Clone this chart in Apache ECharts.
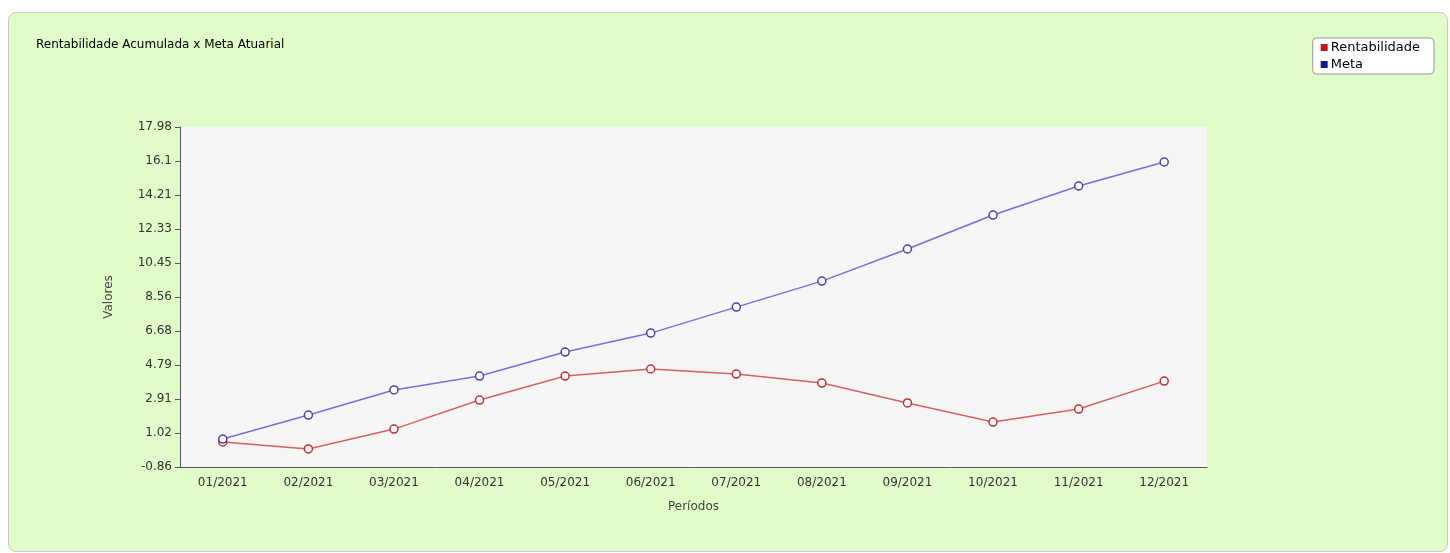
<!DOCTYPE html>
<html><head><meta charset="utf-8">
<script src="https://cdn.jsdelivr.net/npm/echarts@6/dist/echarts.min.js"></script>
<style>
html,body{margin:0;padding:0;background:#fff;}
#box{position:absolute;left:8px;top:12px;width:1438px;height:538px;background:#e0fcc8;border:1px solid #c8c8c8;border-radius:8px;}
#chart{position:absolute;left:0;top:0;width:1450px;height:553px;}
</style></head>
<body>
<div id="box"></div>
<div id="chart"></div>
<script>
var periods = ['01/2021','02/2021','03/2021','04/2021','05/2021','06/2021','07/2021','08/2021','09/2021','10/2021','11/2021','12/2021'];
var rentabilidade = [0.53, 0.14, 1.24, 2.85, 4.18, 4.57, 4.29, 3.79, 2.69, 1.63, 2.35, 3.90];
var meta = [0.69, 2.02, 3.41, 4.18, 5.51, 6.56, 8.00, 9.44, 11.22, 13.10, 14.71, 16.04];
var yTicks = ['-0.86','1.02','2.91','4.79','6.68','8.56','10.45','12.33','14.21','16.1','17.98'];

var yMin = -0.86, yMax = 17.98, yStep = (yMax - yMin) / 10;
var chart = echarts.init(document.getElementById('chart'));
var font = 'DejaVu Sans';
chart.setOption({
    backgroundColor: 'transparent',
    animation: false,
    title: {
        text: 'Rentabilidade Acumulada x Meta Atuarial',
        left: 31, top: 34,
        textStyle: {fontFamily: font, fontSize: 12, fontWeight: 'normal', color: '#000'}
    },
    legend: {
        orient: 'vertical', right: 16, top: 38,
        backgroundColor: '#fff', borderColor: '#999', borderWidth: 1, borderRadius: 4,
        padding: [3, 14, 3, 8], itemGap: 4,
        itemWidth: 7, itemHeight: 7, icon: 'rect',
        textStyle: {fontFamily: font, fontSize: 13, color: '#000', padding: [0, 0, 0, -2]},
        data: [
            {name: 'Rentabilidade', itemStyle: {color: '#c01818', borderWidth: 0}},
            {name: 'Meta', itemStyle: {color: '#1a1a90', borderWidth: 0}}
        ]
    },
    grid: {left: 180, right: 243, top: 127, bottom: 86, show: true, backgroundColor: '#f6f6f6', borderWidth: 0},
    xAxis: {
        type: 'category', data: periods,
        name: 'Períodos', nameLocation: 'middle', nameGap: 34,
        nameTextStyle: {fontFamily: font, fontSize: 12, color: '#444'},
        axisLine: {onZero: false, lineStyle: {color: '#556'}},
        axisTick: {alignWithLabel: true, length: 5, lineStyle: {color: '#556'}},
        axisLabel: {fontFamily: font, fontSize: 12, color: '#333', margin: 10}
    },
    yAxis: {
        type: 'value', min: yMin, max: yMax, interval: yStep,
        name: 'Valores', nameLocation: 'middle', nameGap: 65,
        nameTextStyle: {fontFamily: font, fontSize: 12, color: '#444'},
        splitLine: {show: false},
        axisLine: {show: true, lineStyle: {color: '#556'}},
        axisTick: {show: true, length: 5, lineStyle: {color: '#556'}},
        axisLabel: {fontFamily: font, fontSize: 12, color: '#333', margin: 8,
            formatter: function (v) { return yTicks[Math.round((v - yMin) / yStep)]; }}
    },
    series: [{
        name: 'Rentabilidade', type: 'line', data: rentabilidade,
        symbol: 'circle', symbolSize: 8,
        lineStyle: {color: '#d86060', width: 1.5},
        itemStyle: {color: '#fff', borderColor: '#c03030', borderWidth: 1.5}
    }, {
        name: 'Meta', type: 'line', data: meta,
        symbol: 'circle', symbolSize: 8,
        lineStyle: {color: '#7a6fd8', width: 1.5},
        itemStyle: {color: '#fff', borderColor: '#4a40a8', borderWidth: 1.5}
    }]
});
</script>
</body></html>
